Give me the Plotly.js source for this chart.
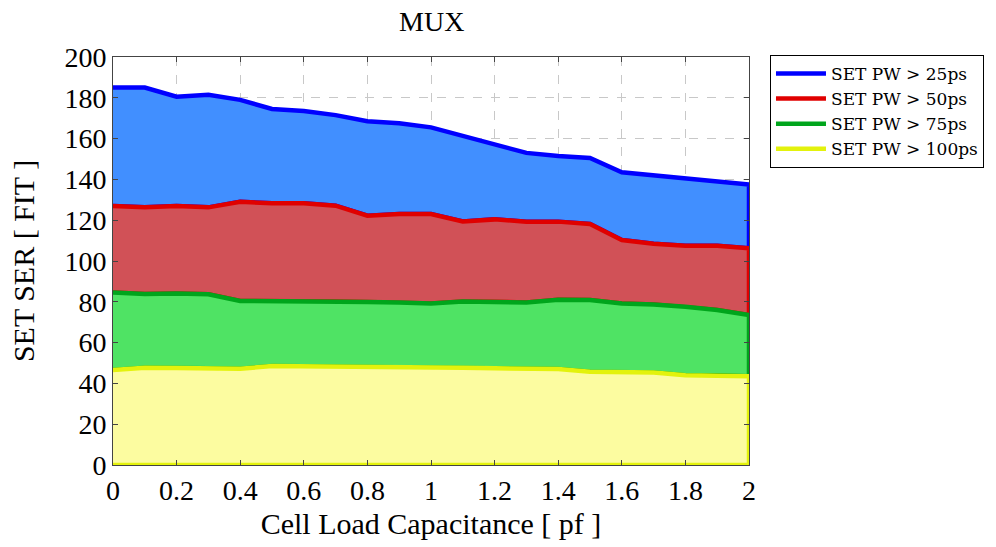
<!DOCTYPE html>
<html>
<head>
<meta charset="utf-8">
<script src="https://cdn.plot.ly/plotly-3.0.1.min.js"></script>
<style>html,body{margin:0;padding:0;background:#fff;}#chart{width:996px;height:547px;}</style>
</head>
<body>
<div id="chart"></div>
<script>
const capacitance = [0, 0.1, 0.2, 0.3, 0.4, 0.5, 0.6, 0.7, 0.8, 0.9, 1.0, 1.1, 1.2, 1.3, 1.4, 1.5, 1.6, 1.7, 1.8, 1.9, 2.0];
const pw25  = [185, 185, 180.5, 181.5, 179, 174.5, 173.5, 171.5, 168.5, 167.5, 165.5, 161.5, 157, 153, 151.5, 150.5, 143.5, 142, 140, 139, 137.5];
const pw50  = [127, 126.3, 127, 126.3, 129, 128.3, 128.3, 127.1, 122.2, 123, 123, 119.4, 120.4, 119.3, 119.3, 118.1, 110.3, 108.5, 107.5, 107.5, 106.2];
const pw75  = [84.5, 83.8, 84.1, 83.7, 80.4, 80.4, 80.1, 80.1, 79.9, 79.7, 79.2, 80.1, 80, 79.7, 81, 80.9, 79.2, 78.7, 77.6, 76, 73.5];
const pw100 = [46.6, 47.7, 47.5, 47.4, 47.2, 48.5, 48.4, 48.4, 48.4, 48.3, 48, 47.7, 47.4, 47.2, 47, 45.7, 45.4, 45.3, 44, 44, 43.5];
const seriesNames = ['SET PW > 25ps', 'SET PW > 50ps', 'SET PW > 75ps', 'SET PW > 100ps'];
const xTicks = [0, 0.2, 0.4, 0.6, 0.8, 1, 1.2, 1.4, 1.6, 1.8, 2];
const xTickText = ['0', '0.2', '0.4', '0.6', '0.8', '1', '1.2', '1.4', '1.6', '1.8', '2'];
const yTicks = [0, 20, 40, 60, 80, 100, 120, 140, 160, 180, 200];

const lineColors = ['#0000ff', '#e00000', '#00a51c', '#e3f20c'];
const fillColors = ['#418fff', '#d15157', '#4fe364', '#fcfca0'];
const uppers = [pw25, pw50, pw75, pw100];
const zeros = capacitance.map(() => 0);
const lowers = [pw50, pw75, pw100, zeros];

const traces = [];
for (let i = 0; i < 4; i++) {
  const xs = capacitance.concat(capacitance.slice().reverse());
  const ys = uppers[i].concat(lowers[i].slice().reverse());
  traces.push({
    x: xs, y: ys, type: 'scatter', mode: 'lines', fill: 'toself',
    fillcolor: fillColors[i], line: {color: lineColors[i], width: 4.5},
    showlegend: false, hoverinfo: 'skip'
  });
}
for (let i = 0; i < 4; i++) {
  traces.push({
    x: [null], y: [null], type: 'scatter', mode: 'lines',
    name: seriesNames[i], line: {color: lineColors[i], width: 4.5}, showlegend: true
  });
}

const font = 'Liberation Serif';
const layout = {
  width: 996, height: 547,
  margin: {l: 113, r: 247, t: 57, b: 82},
  paper_bgcolor: '#fff', plot_bgcolor: '#fff',
  font: {family: font, color: '#000'},
  title: {text: 'MUX', font: {size: 28, family: font}, x: 0.4335, xanchor: 'center', y: 0.962, yanchor: 'middle'},
  xaxis: {
    range: [0, 2], tickvals: xTicks, ticktext: xTickText,
    showgrid: true, gridcolor: '#c8c8c8', griddash: 'dash', gridwidth: 1,
    showline: true, linecolor: '#444', linewidth: 1, mirror: 'ticks',
    ticks: 'inside', ticklen: 5, tickcolor: '#444',
    tickfont: {size: 28, family: font},
    zeroline: false,
    title: {text: 'Cell Load Capacitance [ pf ]', font: {size: 30, family: font}, standoff: 8}
  },
  yaxis: {
    range: [0, 200], tickvals: yTicks,
    showgrid: true, gridcolor: '#c8c8c8', griddash: 'dash', gridwidth: 1,
    showline: true, linecolor: '#444', linewidth: 1, mirror: 'ticks',
    ticks: 'inside', ticklen: 5, tickcolor: '#444',
    tickfont: {size: 28, family: font},
    zeroline: false,
    title: {text: 'SET SER [ FIT ]', font: {size: 30, family: font}, standoff: 20}
  },
  legend: {
    x: 1.033, xanchor: 'left', y: 1.005, yanchor: 'top',
    bordercolor: '#000', borderwidth: 1, bgcolor: '#fff',
    font: {size: 17, family: 'DejaVu Serif'}, tracegroupgap: 0, itemwidth: 50
  },
  showlegend: true
};

Plotly.newPlot('chart', traces, layout, {staticPlot: true, displayModeBar: false});
</script>
</body>
</html>
